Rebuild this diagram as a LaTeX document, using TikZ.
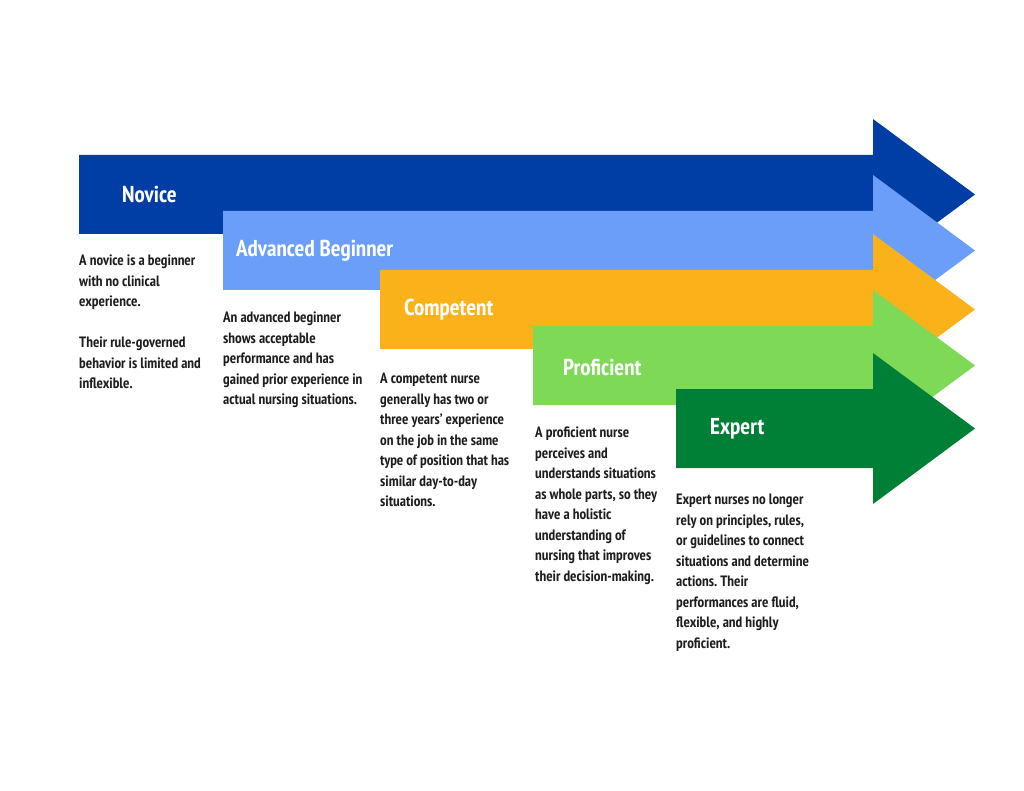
\documentclass[tikz,border=0pt]{standalone}
\usepackage{fontspec}
\setmainfont{PT Sans Narrow}
\frenchspacing
\usetikzlibrary{positioning}
\definecolor{noviceblue}{HTML}{003DA5}
\definecolor{advblue}{HTML}{6A9EF8}
\definecolor{compyellow}{HTML}{FBB11A}
\definecolor{profgreen}{HTML}{7ED957}
\definecolor{expgreen}{HTML}{008037}
\definecolor{textdark}{HTML}{1E1E1E}
\begin{document}
\begin{tikzpicture}[x=1pt,y=-1pt,
  title/.style={anchor=west,text=white,inner sep=0pt,font=\bfseries\fontsize{23}{27}\selectfont},
  desc/.style={anchor=north west,align=left,inner sep=0pt,text=textdark,font=\bfseries\fontsize{15}{20.5}\selectfont},]
\useasboundingbox (0,0) rectangle (1024,791);
\foreach \x/\y/\c in {79/155/noviceblue,223/211/advblue,380/270/compyellow,533/326/profgreen,676/389/expgreen}
  \fill[\c] (\x,\y) -- (873,\y) -- (873,\y-36) -- (975,\y+39.5) -- (873,\y+115) -- (873,\y+79) -- (\x,\y+79) -- cycle;

\node[title] (novice) at (122,194) {Novice};
\node[title] (advanced) at (236,251) {Advanced Beginner};
\node[title] (competent) at (404,310) {Competent};
\node[title] (proficient) at (563,367) {Proficient};
\node[title] (expert) at (710,429) {Expert};

\node[desc] (novicetext) at (79,255) {A novice is a beginner\\with no clinical\\experience.\\[20.5pt]Their rule-governed\\behavior is limited and\\inflexible.};
\node[desc] (advancedtext) at (223,312) {An advanced beginner\\shows acceptable\\performance and has\\gained prior experience in\\actual nursing situations.};
\node[desc] (competenttext) at (380,373) {A competent nurse\\generally has two or\\three years' experience\\on the job in the same\\type of position that has\\similar day-to-day\\situations.};
\node[desc] (proficienttext) at (535,427) {A proficient nurse\\perceives and\\understands situations\\as whole parts, so they\\have a holistic\\understanding of\\nursing that improves\\their decision-making.};
\node[desc] (experttext) at (676,494) {Expert nurses no longer\\rely on principles, rules,\\or guidelines to connect\\situations and determine\\actions. Their\\performances are fluid,\\flexible, and highly\\proficient.};
\end{tikzpicture}
\end{document}
